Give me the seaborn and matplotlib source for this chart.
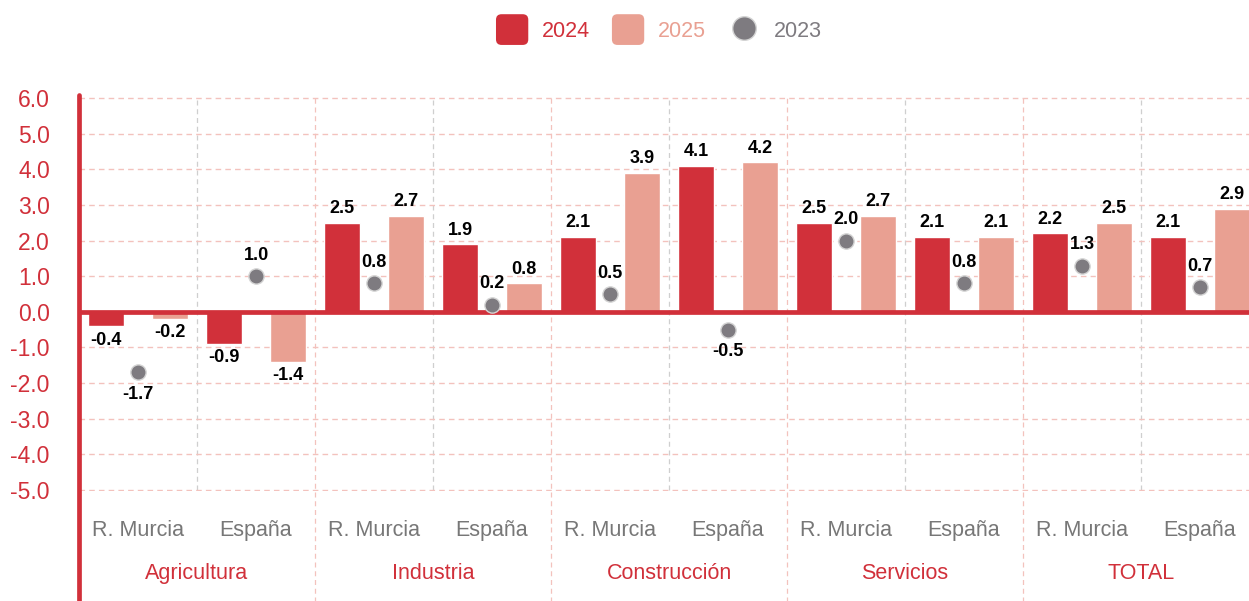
import matplotlib.pyplot as plt
import matplotlib.patches as mpatches
from matplotlib.patches import FancyBboxPatch
from matplotlib.legend_handler import HandlerPatch
from matplotlib.lines import Line2D
import pandas as pd
import seaborn as sns

# datos
sectores = ['Agricultura', 'Industria', 'Construcción', 'Servicios', 'TOTAL']
regiones = ['R. Murcia', 'España']
v2024 = [-0.4, -0.9, 2.5, 1.9, 2.1, 4.1, 2.5, 2.1, 2.2, 2.1]
v2025 = [-0.2, -1.4, 2.7, 0.8, 3.9, 4.2, 2.7, 2.1, 2.5, 2.9]
v2023 = [-1.7, 1.0, 0.8, 0.2, 0.5, -0.5, 2.0, 0.8, 1.3, 0.7]
yticks = [-5, -4, -3, -2, -1, 0, 1, 2, 3, 4, 5, 6]

ROJO = '#D1303A'
SALMON = '#E9A092'
GRIS = '#7E7B80'
ROSA = '#F3C2BD'

claves = [f'{s}\n{r}' for s in sectores for r in regiones]
df = pd.DataFrame({
    'grupo': claves * 2,
    'serie': ['2024'] * len(claves) + ['2025'] * len(claves),
    'valor': v2024 + v2025,
})

sns.set_style('white')
plt.rcParams['font.family'] = ['Liberation Sans', 'DejaVu Sans']

fig = plt.figure(figsize=(12.49, 6.01), dpi=100)
ax = fig.add_axes([79 / 1249, 1 - 491 / 601, 1 - 79 / 1249, 394 / 601])

sns.barplot(data=df, x='grupo', y='valor', hue='serie', palette=[ROJO, SALMON],
            width=1.08, gap=0.44, saturation=1, legend=False, ax=ax, zorder=2)
sns.stripplot(x=claves, y=v2023, jitter=False, color=GRIS, size=11,
              edgecolor='#d4d4d4', linewidth=1, ax=ax, zorder=4)

# etiquetas de barras
for cont in ax.containers:
    ax.bar_label(cont, fmt='%.1f', padding=4, fontsize=13, fontweight='bold',
                 color='black')

# etiquetas de puntos
for i, v in enumerate(v2023):
    ax.annotate(f'{v:.1f}', (i, v), xytext=(0, 15 if v >= 0 else -16),
                textcoords='offset points', ha='center', va='center',
                fontsize=13, fontweight='bold', color='black', zorder=5)

ax.set_xlim(-0.5, 9.415)
ax.set_ylim(-5.03, 6.03)
ax.set_yticks(yticks)
ax.set_yticklabels([f'{t:.1f}' for t in yticks])
ax.tick_params(axis='y', length=0, pad=21, labelcolor=ROJO, labelsize=16.5)
ax.set_xticks(range(len(claves)))
ax.set_xticklabels(regiones * len(sectores))
ax.tick_params(axis='x', length=0, pad=21, labelcolor='#777777', labelsize=15.5)
ax.set_xlabel('')
ax.set_ylabel('')

for s in ax.spines.values():
    s.set_visible(False)

ax.yaxis.grid(True, color=ROSA, linestyle=(0, (4, 3)), lw=1.0)
ax.set_axisbelow(True)

# separadores
trans = ax.get_xaxis_transform()
for k in range(len(claves) - 1):
    x = k + 0.5
    if k % 2 == 0:
        ax.plot([x, x], [0.003, 0.997], transform=trans, color='#cfcfcf',
                ls=(0, (4, 3)), lw=0.9, zorder=0)
    else:
        ax.plot([x, x], [-0.3, 0.997], transform=trans, color=ROSA,
                ls=(0, (4, 3)), lw=0.9, zorder=0, clip_on=False)

for i, s in enumerate(sectores):
    ax.text(2 * i + 0.5, -0.209, s, transform=trans, ha='center', va='center',
            color=ROJO, fontsize=15.5)

ax.axhline(0, color=ROJO, lw=3.4, zorder=3)
ax.plot([0, 0], [1.006, -0.3], transform=ax.transAxes, color=ROJO, lw=3.4,
        solid_capstyle='round', clip_on=False, zorder=6)


class RoundHandler(HandlerPatch):
    def create_artists(self, legend, orig_handle, xdescent, ydescent,
                       width, height, fontsize, trans):
        h = height * 1.35
        p = FancyBboxPatch((-xdescent, -ydescent - (h - height) / 2), width, h,
                           boxstyle='round,pad=0,rounding_size=4',
                           facecolor=orig_handle.get_facecolor(),
                           edgecolor='none', transform=trans)
        return [p]


handles = [
    mpatches.Patch(facecolor=ROJO, label='2024'),
    mpatches.Patch(facecolor=SALMON, label='2025'),
    Line2D([], [], marker='o', ls='', color=GRIS, markersize=17,
           markeredgecolor='#d4d4d4', label='2023'),
]
fig.legend(handles=handles, loc='center', bbox_to_anchor=(659 / 1249, 1 - 30 / 601),
           ncol=3, frameon=False, fontsize=15.5, handlelength=1.5,
           handleheight=1.25, handletextpad=0.65, columnspacing=1.0,
           labelcolor=[ROJO, SALMON, GRIS],
           handler_map={mpatches.Patch: RoundHandler()})

fig.savefig('out.png', dpi=100)
